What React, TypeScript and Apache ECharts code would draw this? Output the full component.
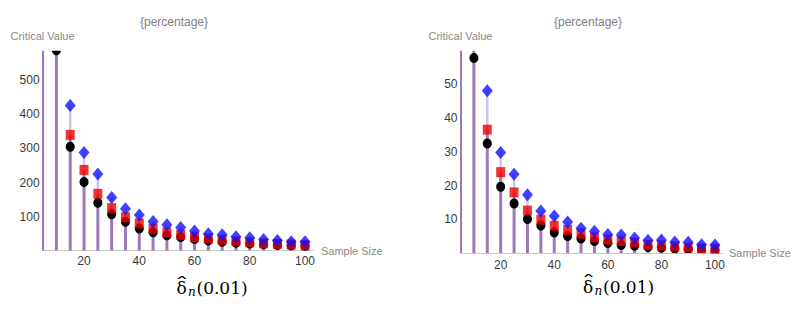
import React, { useEffect, useRef } from "react";
import * as echarts from "echarts";

// ---- data ----
const sampleSizes = [5, 10, 15, 20, 25, 30, 35, 40, 45, 50, 55, 60, 65, 70, 75, 80, 85, 90, 95, 100];

// left panel (values beyond the top of the plot are estimates, they are clipped)
const leftBlack = [1200, 588, 305, 202, 141, 107, 85, 65, 54, 45, 40, 34, 30, 26, 23, 21, 19, 17, 15, 14];
const leftRed = [1500, 700, 340, 237, 167, 125, 98, 80, 65, 54, 47, 40, 36, 32, 28, 25, 22, 20, 18, 16];
const leftBlue = [2000, 900, 426, 288, 225, 156, 123, 105, 86, 76, 68, 58, 50, 47, 41, 38, 33, 30, 26, 26];

// right panel
const rightBlack = [120, 57.8, 32.5, 19.7, 14.7, 10.1, 8.2, 6.1, 5.1, 4.3, 3.6, 3.0, 2.4, 2.2, 1.8, 1.6, 1.4, 1.2, 1.0, 0.8];
const rightRed = [150, 70, 36.6, 24, 18, 12.6, 9.9, 8.1, 6.8, 5.8, 4.7, 4.0, 3.6, 3.1, 2.5, 2.3, 2.0, 1.7, 1.5, 1.3];
const rightBlue = [200, 95, 48.1, 29.8, 23.4, 17.3, 12.5, 11.0, 9.2, 7.4, 6.5, 5.5, 5.4, 4.5, 3.8, 3.9, 3.3, 3.2, 2.5, 2.4];

const xTicks = [20, 40, 60, 80, 100];
const leftYTicks = [100, 200, 300, 400, 500];
const rightYTicks = [10, 20, 30, 40, 50];

const titleText = "{percentage}";
const yName = "Critical Value";
const xName = "Sample Size";
const labelDelta = "\u03B4";
const labelHat = "\u02C6";
const labelSub = "n";
const labelArg = "(0.01)";

const SANS = '"Liberation Sans Narrow", "Arial Narrow", "Liberation Sans", Arial, sans-serif';
const SERIF = '"DejaVu Serif", "Liberation Serif", serif';

const STEM = "#9c79b9";
const STEM_LIGHT = "#c6c6f4";

function pts(xs: number[], ys: number[]) {
  return xs.map((x, i) => [x, ys[i]]);
}

function stemRows(xs: number[], b: number[], r: number[], bl: number[]) {
  return xs.map((x, i) => [x, b[i], r[i], bl[i]]);
}

function makeAxes(gridIndex: number, yMax: number, yTicks: number[], labelMarginX: number) {
  const xAxis = {
    type: "value",
    gridIndex,
    min: 5,
    max: 103,
    axisLine: { show: true, onZero: false, lineStyle: { color: "#c8c8c8", width: 1 } },
    axisTick: { show: false },
    splitLine: { show: false },
    axisLabel: {
      customValues: xTicks,
      fontSize: 12,
      color: "#3a3a3a",
      fontFamily: SANS,
      margin: labelMarginX,
    },
    name: xName,
    nameLocation: "end",
    nameGap: 6,
    nameTextStyle: { color: "#8a8a8a", fontSize: 11, fontFamily: SANS, align: "left", verticalAlign: "middle" },
  };
  const yAxis = {
    type: "value",
    gridIndex,
    min: 0,
    max: yMax,
    axisLine: { show: false },
    axisTick: { show: false },
    splitLine: { show: false },
    axisLabel: {
      customValues: yTicks,
      fontSize: 12,
      color: "#3a3a3a",
      fontFamily: SANS,
      margin: 3,
    },
    name: yName,
    nameLocation: "end",
    nameGap: 15,
    nameTextStyle: { color: "#8a8a8a", fontSize: 11, fontFamily: SANS, align: "center", verticalAlign: "middle" },
  };
  return { xAxis, yAxis };
}

function stemSeries(idx: number, rows: number[][]) {
  return {
    type: "custom",
    xAxisIndex: idx,
    yAxisIndex: idx,
    clip: true,
    z: 1,
    data: rows,
    renderItem: (params: any, api: any) => {
      const x = api.value(0);
      const red = api.value(2);
      const blue = api.value(3);
      const p0 = api.coord([x, 0]);
      const p1 = api.coord([x, red]);
      const p2 = api.coord([x, blue]);
      return {
        type: "group",
        children: [
          { type: "line", shape: { x1: p1[0], y1: p1[1], x2: p2[0], y2: p2[1] }, style: { stroke: STEM_LIGHT, lineWidth: 2.5 } },
          { type: "line", shape: { x1: p0[0], y1: p0[1], x2: p1[0], y2: p1[1] }, style: { stroke: STEM, lineWidth: 3 } },
        ],
      };
    },
  };
}

function blackSeries(idx: number, data: number[][]) {
  return {
    type: "custom",
    xAxisIndex: idx,
    yAxisIndex: idx,
    clip: true,
    z: 2,
    data,
    renderItem: (params: any, api: any) => {
      const p = api.coord([api.value(0), api.value(1)]);
      return { type: "ellipse", shape: { cx: p[0], cy: p[1], rx: 4.5, ry: 5 }, style: { fill: "#000000" } };
    },
  };
}

function scatter(idx: number, data: number[][], symbol: string, size: number[], color: string, z: number) {
  return {
    type: "scatter",
    xAxisIndex: idx,
    yAxisIndex: idx,
    clip: true,
    z,
    symbol,
    symbolSize: size,
    itemStyle: { color },
    data,
  };
}

function bottomLabel(x: number, y: number) {
  return [
    { type: "text", x, y, style: { text: labelDelta, font: `17px ${SERIF}`, fill: "#000", align: "left", verticalAlign: "middle" } },
    { type: "text", x: x + 5.5, y: y - 13.5, scaleX: 1.7, style: { text: labelHat, font: `17px ${SERIF}`, fill: "#000", align: "center", verticalAlign: "top" } },
    { type: "text", x: x + 11.5, y: y + 4, style: { text: labelSub, font: `italic 12px ${SERIF}`, fill: "#000", align: "left", verticalAlign: "middle" } },
    { type: "text", x: x + 20, y, style: { text: labelArg, font: `17px ${SERIF}`, fill: "#000", align: "left", verticalAlign: "middle" } },
  ];
}

export default function App() {
  const ref = useRef<HTMLDivElement>(null);

  useEffect(() => {
    if (!ref.current) return;
    const chart = echarts.init(ref.current, null, { renderer: "svg" });
    const L = makeAxes(0, 587, leftYTicks, 4);
    const R = makeAxes(1, 60, rightYTicks, 6);
    chart.setOption({
      animation: false,
      backgroundColor: "#ffffff",
      grid: [
        { left: 42.6, top: 50.7, width: 270.7, height: 200, containLabel: false },
        { left: 460.5, top: 50.7, width: 262.5, height: 202.4, containLabel: false },
      ],
      xAxis: [L.xAxis, R.xAxis],
      yAxis: [L.yAxis, R.yAxis],
      graphic: [
        { type: "text", x: 174, y: 22, style: { text: titleText, font: `12px ${SANS}`, fill: "#808080", align: "center", verticalAlign: "middle" } },
        { type: "text", x: 588, y: 22, style: { text: titleText, font: `12px ${SANS}`, fill: "#808080", align: "center", verticalAlign: "middle" } },
        ...bottomLabel(176.5, 288),
        ...bottomLabel(583, 286.5),
      ],
      series: [
        stemSeries(0, stemRows(sampleSizes, leftBlack, leftRed, leftBlue)),
        blackSeries(0, pts(sampleSizes, leftBlack)),
        scatter(0, pts(sampleSizes, leftRed), "rect", [9, 10], "#f00000", 3),
        scatter(0, pts(sampleSizes, leftBlue), "diamond", [11, 13], "#1010ff", 4),
        stemSeries(1, stemRows(sampleSizes, rightBlack, rightRed, rightBlue)),
        blackSeries(1, pts(sampleSizes, rightBlack)),
        scatter(1, pts(sampleSizes, rightRed), "rect", [9, 10], "#f00000", 3),
        scatter(1, pts(sampleSizes, rightBlue), "diamond", [11, 13], "#1010ff", 4),
      ],
    });
    return () => chart.dispose();
  }, []);

  return <div ref={ref} style={{ width: 800, height: 311, position: "absolute", left: 0, top: 0 }} />;
}
